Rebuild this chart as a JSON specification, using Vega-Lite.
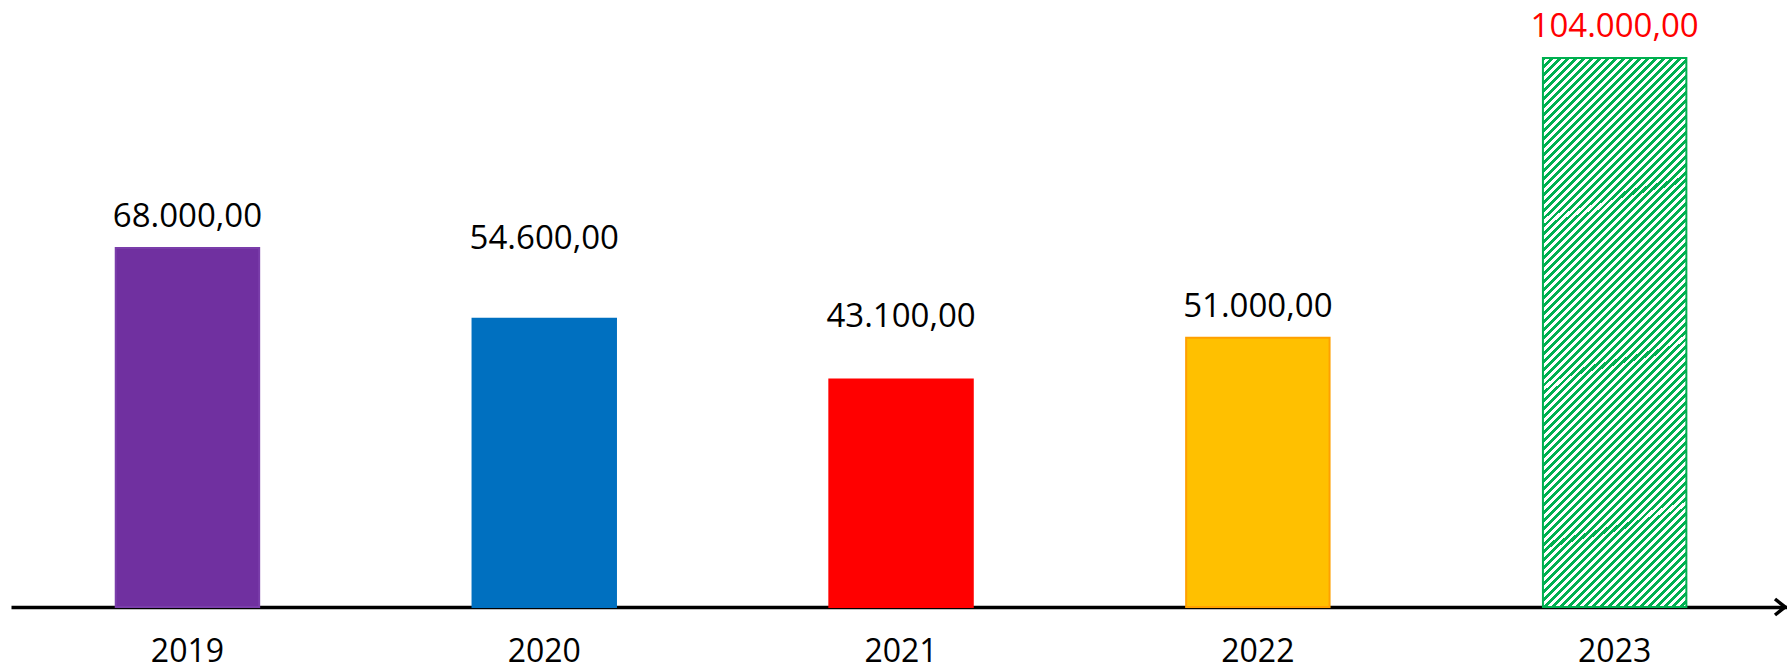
{
  "$schema": "https://vega.github.io/schema/vega-lite/v6.json",
  "autosize": "none",
  "width": 1776,
  "height": 607,
  "padding": {"left": 11, "top": 0, "right": 0, "bottom": 63},
  "background": "white",
  "config": {
    "view": {"stroke": null},
    "font": "Open Sans",
    "locale": {"number": {"decimal": ",", "thousands": ".", "grouping": [3], "currency": ["", " €"]}}
  },
  "data": {"values": [
    {"year": "2019", "value": 68000},
    {"year": "2020", "value": 54600},
    {"year": "2021", "value": 43100},
    {"year": "2022", "value": 51000},
    {"year": "2023", "value": 104000}
  ]},
  "layer": [
    {
      "mark": {"type": "bar", "strokeWidth": 2},
      "encoding": {
        "x": {"field": "year", "type": "nominal",
          "scale": {"paddingInner": 0.598, "paddingOuter": 0.2878, "align": 0.51},
          "axis": {"title": null, "domain": true, "domainColor": "black", "domainWidth": 3.5, "ticks": false, "grid": false,
            "labelFontSize": 32, "labelColor": "black", "labelPadding": 54, "labelBaseline": "alphabetic", "labelAngle": 0, "labelFont": "Open Sans"}},
        "y": {"field": "value", "type": "quantitative", "scale": {"domain": [0, 115000], "nice": false, "zero": true}, "axis": null},
        "fill": {
          "condition": {"test": "datum.year === '2023'", "value": {"gradient": "linear", "x1": 0, "y1": 0, "x2": 0.3071, "y2": 1.1803, "stops": [
{"offset":0,"color":"#00B050"},
{"offset":0.0057,"color":"#00B050"},{"offset":0.0057,"color":"#ffffff"},
{"offset":0.0115,"color":"#ffffff"},{"offset":0.0115,"color":"#00B050"},
{"offset":0.0172,"color":"#00B050"},{"offset":0.0172,"color":"#ffffff"},
{"offset":0.0230,"color":"#ffffff"},{"offset":0.0230,"color":"#00B050"},
{"offset":0.0287,"color":"#00B050"},{"offset":0.0287,"color":"#ffffff"},
{"offset":0.0345,"color":"#ffffff"},{"offset":0.0345,"color":"#00B050"},
{"offset":0.0402,"color":"#00B050"},{"offset":0.0402,"color":"#ffffff"},
{"offset":0.0460,"color":"#ffffff"},{"offset":0.0460,"color":"#00B050"},
{"offset":0.0517,"color":"#00B050"},{"offset":0.0517,"color":"#ffffff"},
{"offset":0.0575,"color":"#ffffff"},{"offset":0.0575,"color":"#00B050"},
{"offset":0.0632,"color":"#00B050"},{"offset":0.0632,"color":"#ffffff"},
{"offset":0.0690,"color":"#ffffff"},{"offset":0.0690,"color":"#00B050"},
{"offset":0.0747,"color":"#00B050"},{"offset":0.0747,"color":"#ffffff"},
{"offset":0.0805,"color":"#ffffff"},{"offset":0.0805,"color":"#00B050"},
{"offset":0.0862,"color":"#00B050"},{"offset":0.0862,"color":"#ffffff"},
{"offset":0.0920,"color":"#ffffff"},{"offset":0.0920,"color":"#00B050"},
{"offset":0.0977,"color":"#00B050"},{"offset":0.0977,"color":"#ffffff"},
{"offset":0.1034,"color":"#ffffff"},{"offset":0.1034,"color":"#00B050"},
{"offset":0.1092,"color":"#00B050"},{"offset":0.1092,"color":"#ffffff"},
{"offset":0.1149,"color":"#ffffff"},{"offset":0.1149,"color":"#00B050"},
{"offset":0.1207,"color":"#00B050"},{"offset":0.1207,"color":"#ffffff"},
{"offset":0.1264,"color":"#ffffff"},{"offset":0.1264,"color":"#00B050"},
{"offset":0.1322,"color":"#00B050"},{"offset":0.1322,"color":"#ffffff"},
{"offset":0.1379,"color":"#ffffff"},{"offset":0.1379,"color":"#00B050"},
{"offset":0.1437,"color":"#00B050"},{"offset":0.1437,"color":"#ffffff"},
{"offset":0.1494,"color":"#ffffff"},{"offset":0.1494,"color":"#00B050"},
{"offset":0.1552,"color":"#00B050"},{"offset":0.1552,"color":"#ffffff"},
{"offset":0.1609,"color":"#ffffff"},{"offset":0.1609,"color":"#00B050"},
{"offset":0.1667,"color":"#00B050"},{"offset":0.1667,"color":"#ffffff"},
{"offset":0.1724,"color":"#ffffff"},{"offset":0.1724,"color":"#00B050"},
{"offset":0.1782,"color":"#00B050"},{"offset":0.1782,"color":"#ffffff"},
{"offset":0.1839,"color":"#ffffff"},{"offset":0.1839,"color":"#00B050"},
{"offset":0.1897,"color":"#00B050"},{"offset":0.1897,"color":"#ffffff"},
{"offset":0.1954,"color":"#ffffff"},{"offset":0.1954,"color":"#00B050"},
{"offset":0.2011,"color":"#00B050"},{"offset":0.2011,"color":"#ffffff"},
{"offset":0.2069,"color":"#ffffff"},{"offset":0.2069,"color":"#00B050"},
{"offset":0.2126,"color":"#00B050"},{"offset":0.2126,"color":"#ffffff"},
{"offset":0.2184,"color":"#ffffff"},{"offset":0.2184,"color":"#00B050"},
{"offset":0.2241,"color":"#00B050"},{"offset":0.2241,"color":"#ffffff"},
{"offset":0.2299,"color":"#ffffff"},{"offset":0.2299,"color":"#00B050"},
{"offset":0.2356,"color":"#00B050"},{"offset":0.2356,"color":"#ffffff"},
{"offset":0.2414,"color":"#ffffff"},{"offset":0.2414,"color":"#00B050"},
{"offset":0.2471,"color":"#00B050"},{"offset":0.2471,"color":"#ffffff"},
{"offset":0.2529,"color":"#ffffff"},{"offset":0.2529,"color":"#00B050"},
{"offset":0.2586,"color":"#00B050"},{"offset":0.2586,"color":"#ffffff"},
{"offset":0.2644,"color":"#ffffff"},{"offset":0.2644,"color":"#00B050"},
{"offset":0.2701,"color":"#00B050"},{"offset":0.2701,"color":"#ffffff"},
{"offset":0.2759,"color":"#ffffff"},{"offset":0.2759,"color":"#00B050"},
{"offset":0.2816,"color":"#00B050"},{"offset":0.2816,"color":"#ffffff"},
{"offset":0.2874,"color":"#ffffff"},{"offset":0.2874,"color":"#00B050"},
{"offset":0.2931,"color":"#00B050"},{"offset":0.2931,"color":"#ffffff"},
{"offset":0.2989,"color":"#ffffff"},{"offset":0.2989,"color":"#00B050"},
{"offset":0.3046,"color":"#00B050"},{"offset":0.3046,"color":"#ffffff"},
{"offset":0.3103,"color":"#ffffff"},{"offset":0.3103,"color":"#00B050"},
{"offset":0.3161,"color":"#00B050"},{"offset":0.3161,"color":"#ffffff"},
{"offset":0.3218,"color":"#ffffff"},{"offset":0.3218,"color":"#00B050"},
{"offset":0.3276,"color":"#00B050"},{"offset":0.3276,"color":"#ffffff"},
{"offset":0.3333,"color":"#ffffff"},{"offset":0.3333,"color":"#00B050"},
{"offset":0.3391,"color":"#00B050"},{"offset":0.3391,"color":"#ffffff"},
{"offset":0.3448,"color":"#ffffff"},{"offset":0.3448,"color":"#00B050"},
{"offset":0.3506,"color":"#00B050"},{"offset":0.3506,"color":"#ffffff"},
{"offset":0.3563,"color":"#ffffff"},{"offset":0.3563,"color":"#00B050"},
{"offset":0.3621,"color":"#00B050"},{"offset":0.3621,"color":"#ffffff"},
{"offset":0.3678,"color":"#ffffff"},{"offset":0.3678,"color":"#00B050"},
{"offset":0.3736,"color":"#00B050"},{"offset":0.3736,"color":"#ffffff"},
{"offset":0.3793,"color":"#ffffff"},{"offset":0.3793,"color":"#00B050"},
{"offset":0.3851,"color":"#00B050"},{"offset":0.3851,"color":"#ffffff"},
{"offset":0.3908,"color":"#ffffff"},{"offset":0.3908,"color":"#00B050"},
{"offset":0.3966,"color":"#00B050"},{"offset":0.3966,"color":"#ffffff"},
{"offset":0.4023,"color":"#ffffff"},{"offset":0.4023,"color":"#00B050"},
{"offset":0.4080,"color":"#00B050"},{"offset":0.4080,"color":"#ffffff"},
{"offset":0.4138,"color":"#ffffff"},{"offset":0.4138,"color":"#00B050"},
{"offset":0.4195,"color":"#00B050"},{"offset":0.4195,"color":"#ffffff"},
{"offset":0.4253,"color":"#ffffff"},{"offset":0.4253,"color":"#00B050"},
{"offset":0.4310,"color":"#00B050"},{"offset":0.4310,"color":"#ffffff"},
{"offset":0.4368,"color":"#ffffff"},{"offset":0.4368,"color":"#00B050"},
{"offset":0.4425,"color":"#00B050"},{"offset":0.4425,"color":"#ffffff"},
{"offset":0.4483,"color":"#ffffff"},{"offset":0.4483,"color":"#00B050"},
{"offset":0.4540,"color":"#00B050"},{"offset":0.4540,"color":"#ffffff"},
{"offset":0.4598,"color":"#ffffff"},{"offset":0.4598,"color":"#00B050"},
{"offset":0.4655,"color":"#00B050"},{"offset":0.4655,"color":"#ffffff"},
{"offset":0.4713,"color":"#ffffff"},{"offset":0.4713,"color":"#00B050"},
{"offset":0.4770,"color":"#00B050"},{"offset":0.4770,"color":"#ffffff"},
{"offset":0.4828,"color":"#ffffff"},{"offset":0.4828,"color":"#00B050"},
{"offset":0.4885,"color":"#00B050"},{"offset":0.4885,"color":"#ffffff"},
{"offset":0.4943,"color":"#ffffff"},{"offset":0.4943,"color":"#00B050"},
{"offset":0.5000,"color":"#00B050"},{"offset":0.5000,"color":"#ffffff"},
{"offset":0.5057,"color":"#ffffff"},{"offset":0.5057,"color":"#00B050"},
{"offset":0.5115,"color":"#00B050"},{"offset":0.5115,"color":"#ffffff"},
{"offset":0.5172,"color":"#ffffff"},{"offset":0.5172,"color":"#00B050"},
{"offset":0.5230,"color":"#00B050"},{"offset":0.5230,"color":"#ffffff"},
{"offset":0.5287,"color":"#ffffff"},{"offset":0.5287,"color":"#00B050"},
{"offset":0.5345,"color":"#00B050"},{"offset":0.5345,"color":"#ffffff"},
{"offset":0.5402,"color":"#ffffff"},{"offset":0.5402,"color":"#00B050"},
{"offset":0.5460,"color":"#00B050"},{"offset":0.5460,"color":"#ffffff"},
{"offset":0.5517,"color":"#ffffff"},{"offset":0.5517,"color":"#00B050"},
{"offset":0.5575,"color":"#00B050"},{"offset":0.5575,"color":"#ffffff"},
{"offset":0.5632,"color":"#ffffff"},{"offset":0.5632,"color":"#00B050"},
{"offset":0.5690,"color":"#00B050"},{"offset":0.5690,"color":"#ffffff"},
{"offset":0.5747,"color":"#ffffff"},{"offset":0.5747,"color":"#00B050"},
{"offset":0.5805,"color":"#00B050"},{"offset":0.5805,"color":"#ffffff"},
{"offset":0.5862,"color":"#ffffff"},{"offset":0.5862,"color":"#00B050"},
{"offset":0.5920,"color":"#00B050"},{"offset":0.5920,"color":"#ffffff"},
{"offset":0.5977,"color":"#ffffff"},{"offset":0.5977,"color":"#00B050"},
{"offset":0.6034,"color":"#00B050"},{"offset":0.6034,"color":"#ffffff"},
{"offset":0.6092,"color":"#ffffff"},{"offset":0.6092,"color":"#00B050"},
{"offset":0.6149,"color":"#00B050"},{"offset":0.6149,"color":"#ffffff"},
{"offset":0.6207,"color":"#ffffff"},{"offset":0.6207,"color":"#00B050"},
{"offset":0.6264,"color":"#00B050"},{"offset":0.6264,"color":"#ffffff"},
{"offset":0.6322,"color":"#ffffff"},{"offset":0.6322,"color":"#00B050"},
{"offset":0.6379,"color":"#00B050"},{"offset":0.6379,"color":"#ffffff"},
{"offset":0.6437,"color":"#ffffff"},{"offset":0.6437,"color":"#00B050"},
{"offset":0.6494,"color":"#00B050"},{"offset":0.6494,"color":"#ffffff"},
{"offset":0.6552,"color":"#ffffff"},{"offset":0.6552,"color":"#00B050"},
{"offset":0.6609,"color":"#00B050"},{"offset":0.6609,"color":"#ffffff"},
{"offset":0.6667,"color":"#ffffff"},{"offset":0.6667,"color":"#00B050"},
{"offset":0.6724,"color":"#00B050"},{"offset":0.6724,"color":"#ffffff"},
{"offset":0.6782,"color":"#ffffff"},{"offset":0.6782,"color":"#00B050"},
{"offset":0.6839,"color":"#00B050"},{"offset":0.6839,"color":"#ffffff"},
{"offset":0.6897,"color":"#ffffff"},{"offset":0.6897,"color":"#00B050"},
{"offset":0.6954,"color":"#00B050"},{"offset":0.6954,"color":"#ffffff"},
{"offset":0.7011,"color":"#ffffff"},{"offset":0.7011,"color":"#00B050"},
{"offset":0.7069,"color":"#00B050"},{"offset":0.7069,"color":"#ffffff"},
{"offset":0.7126,"color":"#ffffff"},{"offset":0.7126,"color":"#00B050"},
{"offset":0.7184,"color":"#00B050"},{"offset":0.7184,"color":"#ffffff"},
{"offset":0.7241,"color":"#ffffff"},{"offset":0.7241,"color":"#00B050"},
{"offset":0.7299,"color":"#00B050"},{"offset":0.7299,"color":"#ffffff"},
{"offset":0.7356,"color":"#ffffff"},{"offset":0.7356,"color":"#00B050"},
{"offset":0.7414,"color":"#00B050"},{"offset":0.7414,"color":"#ffffff"},
{"offset":0.7471,"color":"#ffffff"},{"offset":0.7471,"color":"#00B050"},
{"offset":0.7529,"color":"#00B050"},{"offset":0.7529,"color":"#ffffff"},
{"offset":0.7586,"color":"#ffffff"},{"offset":0.7586,"color":"#00B050"},
{"offset":0.7644,"color":"#00B050"},{"offset":0.7644,"color":"#ffffff"},
{"offset":0.7701,"color":"#ffffff"},{"offset":0.7701,"color":"#00B050"},
{"offset":0.7759,"color":"#00B050"},{"offset":0.7759,"color":"#ffffff"},
{"offset":0.7816,"color":"#ffffff"},{"offset":0.7816,"color":"#00B050"},
{"offset":0.7874,"color":"#00B050"},{"offset":0.7874,"color":"#ffffff"},
{"offset":0.7931,"color":"#ffffff"},{"offset":0.7931,"color":"#00B050"},
{"offset":0.7989,"color":"#00B050"},{"offset":0.7989,"color":"#ffffff"},
{"offset":0.8046,"color":"#ffffff"},{"offset":0.8046,"color":"#00B050"},
{"offset":0.8103,"color":"#00B050"},{"offset":0.8103,"color":"#ffffff"},
{"offset":0.8161,"color":"#ffffff"},{"offset":0.8161,"color":"#00B050"},
{"offset":0.8218,"color":"#00B050"},{"offset":0.8218,"color":"#ffffff"},
{"offset":0.8276,"color":"#ffffff"},{"offset":0.8276,"color":"#00B050"},
{"offset":0.8333,"color":"#00B050"},{"offset":0.8333,"color":"#ffffff"},
{"offset":0.8391,"color":"#ffffff"},{"offset":0.8391,"color":"#00B050"},
{"offset":0.8448,"color":"#00B050"},{"offset":0.8448,"color":"#ffffff"},
{"offset":0.8506,"color":"#ffffff"},{"offset":0.8506,"color":"#00B050"},
{"offset":0.8563,"color":"#00B050"},{"offset":0.8563,"color":"#ffffff"},
{"offset":0.8621,"color":"#ffffff"},{"offset":0.8621,"color":"#00B050"},
{"offset":0.8678,"color":"#00B050"},{"offset":0.8678,"color":"#ffffff"},
{"offset":0.8736,"color":"#ffffff"},{"offset":0.8736,"color":"#00B050"},
{"offset":0.8793,"color":"#00B050"},{"offset":0.8793,"color":"#ffffff"},
{"offset":0.8851,"color":"#ffffff"},{"offset":0.8851,"color":"#00B050"},
{"offset":0.8908,"color":"#00B050"},{"offset":0.8908,"color":"#ffffff"},
{"offset":0.8966,"color":"#ffffff"},{"offset":0.8966,"color":"#00B050"},
{"offset":0.9023,"color":"#00B050"},{"offset":0.9023,"color":"#ffffff"},
{"offset":0.9080,"color":"#ffffff"},{"offset":0.9080,"color":"#00B050"},
{"offset":0.9138,"color":"#00B050"},{"offset":0.9138,"color":"#ffffff"},
{"offset":0.9195,"color":"#ffffff"},{"offset":0.9195,"color":"#00B050"},
{"offset":0.9253,"color":"#00B050"},{"offset":0.9253,"color":"#ffffff"},
{"offset":0.9310,"color":"#ffffff"},{"offset":0.9310,"color":"#00B050"},
{"offset":0.9368,"color":"#00B050"},{"offset":0.9368,"color":"#ffffff"},
{"offset":0.9425,"color":"#ffffff"},{"offset":0.9425,"color":"#00B050"},
{"offset":0.9483,"color":"#00B050"},{"offset":0.9483,"color":"#ffffff"},
{"offset":0.9540,"color":"#ffffff"},{"offset":0.9540,"color":"#00B050"},
{"offset":0.9598,"color":"#00B050"},{"offset":0.9598,"color":"#ffffff"},
{"offset":0.9655,"color":"#ffffff"},{"offset":0.9655,"color":"#00B050"},
{"offset":0.9713,"color":"#00B050"},{"offset":0.9713,"color":"#ffffff"},
{"offset":0.9770,"color":"#ffffff"},{"offset":0.9770,"color":"#00B050"},
{"offset":0.9828,"color":"#00B050"},{"offset":0.9828,"color":"#ffffff"},
{"offset":0.9885,"color":"#ffffff"},{"offset":0.9885,"color":"#00B050"},
{"offset":0.9943,"color":"#00B050"},{"offset":0.9943,"color":"#ffffff"},
{"offset":1,"color":"#ffffff"}
          ]}},
          "field": "year", "type": "nominal",
          "scale": {"domain": ["2019", "2020", "2021", "2022", "2023"], "range": ["#7030A0", "#0070C0", "#FF0000", "#FFC000", "#00B050"]},
          "legend": null
        },
        "stroke": {"field": "year", "type": "nominal",
          "scale": {"domain": ["2019", "2020", "2021", "2022", "2023"], "range": ["#7A3DAA", "#0070C0", "#FF0000", "#FFA000", "#00B050"]},
          "legend": null}
      }
    },
    {
      "mark": {"type": "text", "fontSize": 33, "font": "Open Sans", "baseline": "alphabetic", "align": "center",
        "dy": {"expr": "datum.year === '2020' ? -70 : datum.year === '2021' ? -53 : -21"}},
      "encoding": {
        "x": {"field": "year", "type": "nominal"},
        "y": {"field": "value", "type": "quantitative"},
        "text": {"field": "value", "type": "quantitative", "format": ",.2f"},
        "color": {"condition": {"test": "datum.year === '2023'", "value": "#FF0000"}, "value": "black"}
      }
    },
    {
      "data": {"values": [{}]},
      "mark": {"type": "point", "shape": "M-1.25,-1L0,0L-1.25,1", "filled": false, "strokeWidth": 3.5, "size": 256, "color": "black", "opacity": 1},
      "encoding": {
        "x": {"value": {"expr": "width - 2"}},
        "y": {"value": {"expr": "height"}}
      }
    }
  ]
}
